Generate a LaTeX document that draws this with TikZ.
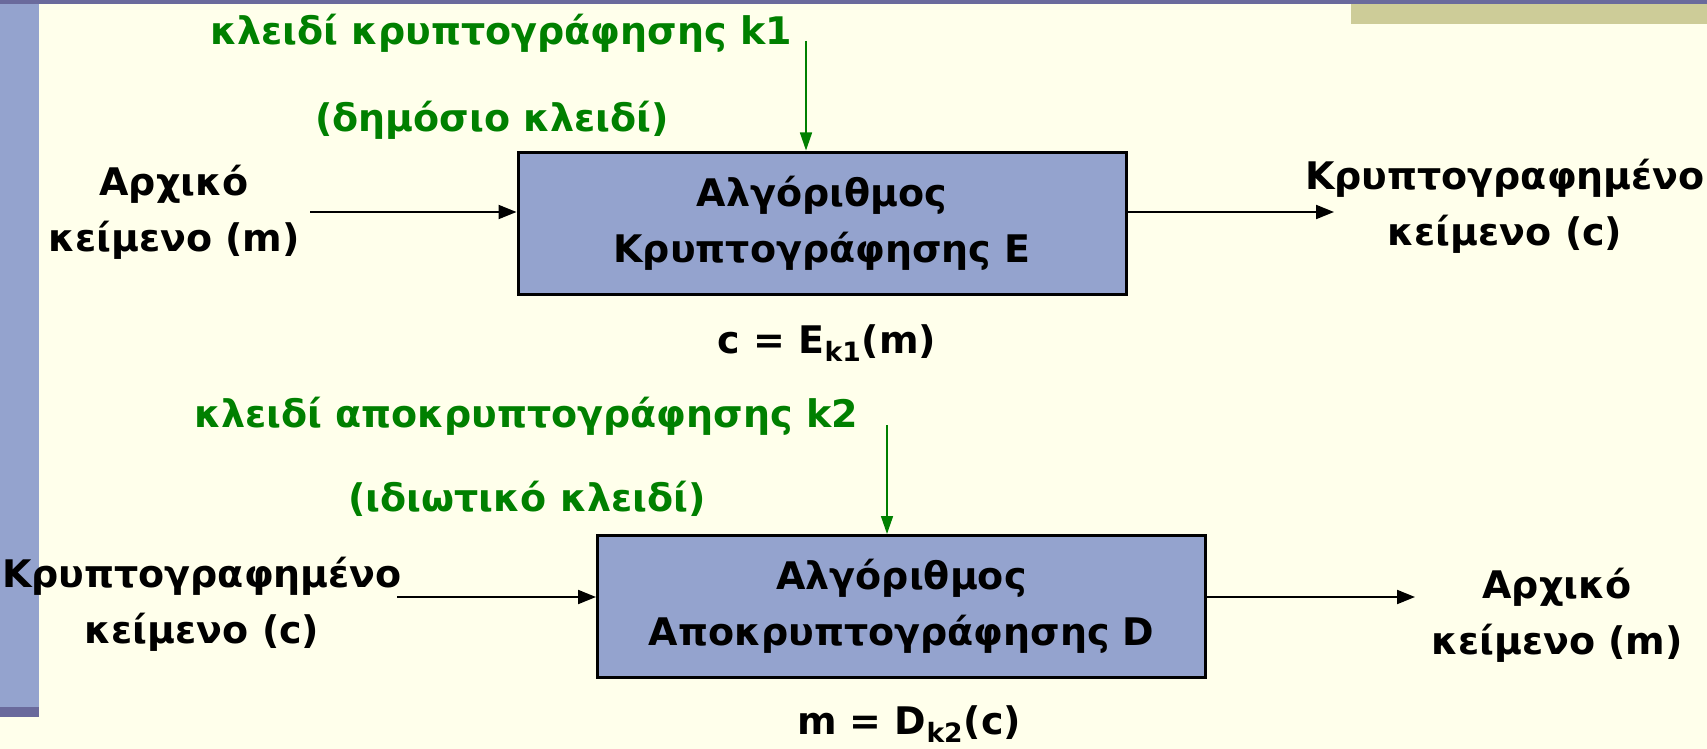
\documentclass[tikz,border=0pt]{standalone}
\usepackage{fontspec}
\setmainfont{DejaVu Sans}
\usetikzlibrary{arrows.meta}
\definecolor{bgc}{RGB}{255,255,235}
\definecolor{barc}{RGB}{148,163,206}
\definecolor{topc}{RGB}{106,106,156}
\definecolor{olivec}{RGB}{205,204,152}
\definecolor{keyg}{RGB}{0,128,0}
\begin{document}
\begin{tikzpicture}[x=0.5pt,y=-0.5pt,
  every node/.style={font=\fontsize{19}{28}\selectfont\bfseries, inner sep=0pt},
  algbox/.style={draw=black, line width=1.5pt, fill=barc, minimum width=304pt, minimum height=71pt, align=center},
  lbl/.style={align=center},
  keylbl/.style={text=keyg},
  arr/.style={-{Triangle[length=9pt,width=7pt]}, line width=1pt},
  keyarr/.style={-{Triangle[length=9pt,width=6pt]}, draw=keyg, line width=0.75pt}]
% background
\useasboundingbox (0,0) rectangle (1707,749);
\fill[bgc] (0,0) rectangle (1707,749);
\fill[barc] (0,4) rectangle (39,707);
\fill[topc] (0,707) rectangle (39,717);
\fill[topc] (0,0) rectangle (1707,4);
\fill[olivec] (1351,4) rectangle (1707,24);
% encryption
\node[algbox] (box1) at (822,223) {Αλγόριθμος\\Κρυπτογράφησης E};
\node[keylbl] (key1a) at (501,33) {κλειδί κρυπτογράφησης k1};
\node[keylbl] (key1b) at (492,120) {(δημόσιο κλειδί)};
\node[lbl] (in1) at (174,212) {Αρχικό\\κείμενο (m)};
\node[lbl] (out1) at (1505,206) {Κρυπτογραφημένο\\κείμενο (c)};
\node (eq1) at (827,343) {c = E\textsubscript{k1}(m)};
\coordinate (k1s) at (806,41);
\coordinate (a1s) at (310,212);
\coordinate (a1e) at (1334,212);
\draw[keyarr] (k1s) -- (k1s |- box1.north);
\draw[arr] (a1s) -- (a1s -| box1.west);
\draw[arr] (a1e -| box1.east) -- (a1e);
% decryption
\node[algbox] (box2) at (901.5,606.5) {Αλγόριθμος\\Αποκρυπτογράφησης D};
\node[keylbl] (key2a) at (526,416) {κλειδί αποκρυπτογράφησης k2};
\node[keylbl] (key2b) at (527,499) {(ιδιωτικό κλειδί)};
\node[lbl] (in2) at (202,604) {Κρυπτογραφημένο\\κείμενο (c)};
\node[lbl] (out2) at (1557,615) {Αρχικό\\κείμενο (m)};
\node (eq2) at (909,724) {m = D\textsubscript{k2}(c)};
\coordinate (k2s) at (887,425);
\coordinate (a2s) at (397,597);
\coordinate (a2e) at (1415,597);
\draw[keyarr] (k2s) -- (k2s |- box2.north);
\draw[arr] (a2s) -- (a2s -| box2.west);
\draw[arr] (a2e -| box2.east) -- (a2e);
\end{tikzpicture}
\end{document}
